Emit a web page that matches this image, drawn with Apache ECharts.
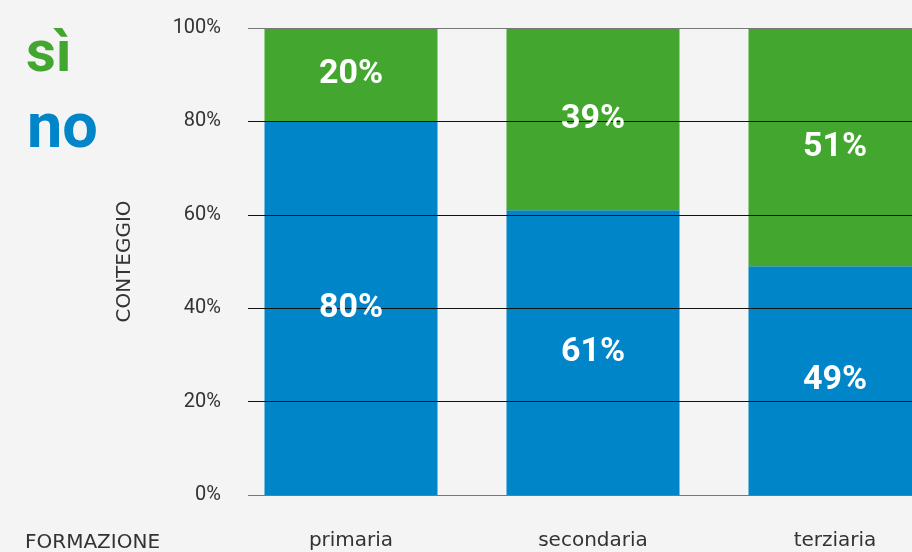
<!DOCTYPE html>
<html><head><meta charset="utf-8">
<script src="https://cdn.jsdelivr.net/npm/echarts@6/dist/echarts.min.js"></script>
<style>html,body{margin:0;padding:0;background:#f4f4f4;}#c{width:912px;height:552px;}</style>
</head><body><div id="c"></div>
<script>
const categories = ['primaria', 'secondaria', 'terziaria'];
const noValues = [80, 61, 49];
const siValues = [20, 39, 51];
const yTicks = [0, 20, 40, 60, 80, 100];

const GREEN = '#43a62e', BLUE = '#0085c9';
const FONT = 'Roboto';
const FONT2 = 'DejaVu Sans';

const noLabels = categories.map((c, i) => [c, noValues[i] / 2, noValues[i]]);
const siLabels = categories.map((c, i) => [c, noValues[i] + siValues[i] / 2, siValues[i]]);

const chart = echarts.init(document.getElementById('c'));
chart.setOption({
  backgroundColor: '#f4f4f4',
  animation: false,
  textStyle: { fontFamily: FONT },
  legend: [
    { data: [{ name: 'sì', textStyle: { color: GREEN } }],
      left: 16, top: 22, icon: 'none', itemWidth: 0, itemHeight: 0, selectedMode: false,
      textStyle: { fontSize: 58, fontWeight: 'bold', fontFamily: FONT } },
    { data: [{ name: 'no', textStyle: { color: BLUE } }],
      left: 17, top: 95, icon: 'none', itemWidth: 0, itemHeight: 0, selectedMode: false,
      textStyle: { fontSize: 63, fontWeight: 'bold', fontFamily: FONT } }
  ],
  title: {
    text: 'FORMAZIONE', left: 20, top: 528,
    textStyle: { fontSize: 20, fontWeight: 'normal', color: '#333', fontFamily: FONT2 }
  },
  grid: [
    { left: 248, right: 0, top: 28, bottom: 57, outerBoundsMode: 'none' },
    { left: 230, width: 726, top: 28, bottom: 57, outerBoundsMode: 'none' }
  ],
  xAxis: [
    { type: 'value', gridIndex: 0, show: false, min: 0, max: 1 },
    { type: 'category', gridIndex: 1, data: categories,
      axisLine: { show: false }, axisTick: { show: false },
      axisLabel: { margin: 36, fontSize: 20, color: '#333', fontFamily: FONT2 } }
  ],
  yAxis: [
    { type: 'value', gridIndex: 0, min: 0, max: 100, interval: 20, z: 5,
      name: 'CONTEGGIO', nameLocation: 'middle', nameGap: 113, nameRotate: 90,
      nameTextStyle: { fontSize: 20, color: '#333', fontFamily: FONT2 },
      axisLine: { show: false }, axisTick: { show: false },
      axisLabel: { formatter: '{value}%', margin: 27, fontSize: 20, color: '#333', fontFamily: FONT },
      splitLine: { show: true, lineStyle: { width: 1, color: ['#777', '#111', '#111', '#111', '#111', '#777'] } } },
    { type: 'value', gridIndex: 1, min: 0, max: 100, interval: 20, show: false, splitLine: { show: false } }
  ],
  series: [
    { name: 'no', type: 'bar', stack: 't', xAxisIndex: 1, yAxisIndex: 1, data: noValues,
      barWidth: 173, itemStyle: { color: BLUE }, z: 2 },
    { name: 'sì', type: 'bar', stack: 't', xAxisIndex: 1, yAxisIndex: 1, data: siValues,
      barWidth: 173, itemStyle: { color: GREEN }, z: 2 },
    { type: 'scatter', xAxisIndex: 1, yAxisIndex: 1, symbolSize: 0, z: 20, silent: true,
      itemStyle: { opacity: 1 },
      data: noLabels.concat(siLabels),
      label: { show: true, position: 'inside', formatter: p => p.value[2] + '%',
        color: '#ffffff', fontSize: 34, fontWeight: 'bold', fontFamily: FONT } }
  ]
});
</script></body></html>
